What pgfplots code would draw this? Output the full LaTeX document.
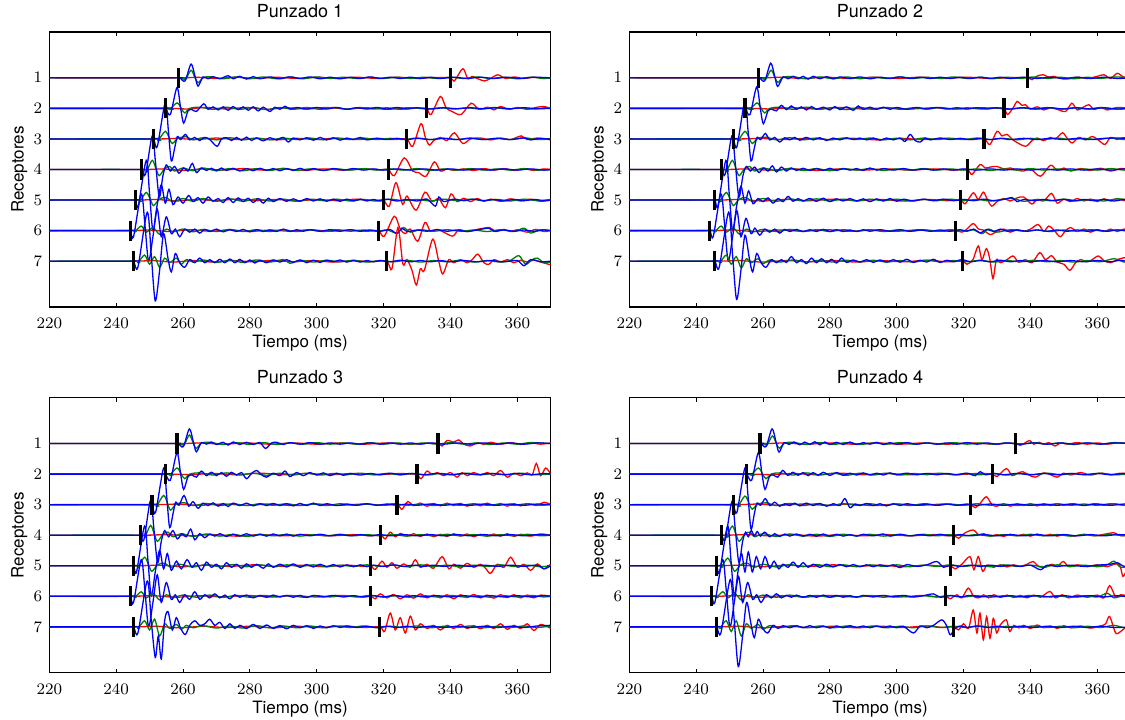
\documentclass[border=0pt]{standalone}
\usepackage{pgfplots}
\pgfplotsset{compat=1.18}
\usepackage{fontspec}
\setmainfont{TeX Gyre Heros}
\definecolor{mplgreen}{rgb}{0,0.5,0}
\newcommand\tr[3]{\addplot[#1,smooth,y filter/.expression={#2-y}] coordinates {#3};}
\newcommand\pk[2]{\addplot[black,line width=1.6pt,y filter/.expression={#2+y}] coordinates {(#1,-.33)(#1,.33)};}
\pgfplotsset{
 seis/.style={width=250.7pt,height=137.5pt,scale only axis,
  xmin=220,xmax=370,ymin=-0.5,ymax=8.5,y dir=reverse,
  ytick={1,...,7},xtick={220,240,...,360},
  tick align=inside,major tick length=2pt,
  tick style={black,line width=0.5pt},axis line style={line width=0.6pt},
  ticklabel style={font=\fontsize{8.2}{9}\selectfont},
  xticklabel style={yshift=-2pt},
  label style={font=\fontsize{8.5}{10}\selectfont},
  xlabel={Tiempo (ms)},ylabel={Receptores},
  xlabel style={at={(axis description cs:0.5,-0.1327)},anchor=center},
  ylabel style={at={(axis description cs:-0.0598,0.5)},anchor=center},
  title style={at={(axis description cs:0.5,1.033)},anchor=center,font=\fontsize{9}{10}\selectfont},
  every axis plot/.append style={line width=0.65pt}}
}
\begin{document}
\begin{tikzpicture}
%%%%%%%%%%%%%%%% PANEL 1
\begin{axis}[seis,at={(24.65pt,206pt)},anchor=south west,title={Punzado 1}]
\tr{red}{1}{(220,0)(258,0)(264,.02)(270,-.02)(276,.02)(282,-.02)(288,.02)(294,-.02)(300,.02)(306,-.02)(312,.02)(318,-.02)(324,.02)(330,-.02)(335,.01)(340,0)(341.2,-.1)(343.7,.3)(345.2,-.03)(346.5,.05)(348,-.02)(350.2,-.1)(352,-.02)(354.2,.1)(356.5,-.02)(359,.03)(362,-.02)(365,.02)(368,-.02)(370,0)}
\tr{mplgreen}{1}{(220,0)(258,0)(259.5,0)(260.8,-.05)(262.4,.25)(263.6,0)(264.5,-.16)(266,0)(268,.04)(272,-.03)(276,.03)(280,-.03)(284,.03)(288,-.03)(292,.03)(296,-.03)(300,.03)(304,-.02)(308,.02)(312,-.02)(316,.02)(320,-.02)(324,.02)(328,-.02)(332,.02)(336,-.02)(340,.02)(344,-.02)(348,.03)(352,-.02)(356,.02)(360,-.03)(364,.02)(368,-.02)(370,0)}
\tr{blue}{1}{(220,0)(257,0)(259,0)(260.6,-.1)(262.4,.45)(263.6,.05)(264.5,-.27)(266,.03)(267.5,-.03)(269,.04)(271,-.03)(273.5,.07)(275,-.03)(277,.05)(279,-.04)(281,.04)(283,-.03)(286,.03)(289,-.03)(292,.03)(295,-.02)(298,.03)(301,-.03)(304,.02)(307,-.03)(310,.02)(313,-.02)(316,.03)(319,-.02)(322,.02)(325,-.02)(328,.02)(331,-.02)(334,.02)(337,-.02)(341,.02)(345,-.02)(349,.02)(353,-.02)(357,.02)(361,-.02)(365,.02)(370,0)}
\tr{red}{2}{(220,0)(255,0)(261,-.02)(267,.03)(273,-.02)(279,.03)(285,-.03)(291,.02)(297,-.02)(303,.03)(309,-.02)(315,.02)(321,-.03)(327,.02)(331,0)(332.9,0)(334.2,-.2)(337,.39)(338.7,.02)(340.5,-.1)(343.2,-.2)(346.2,.17)(348.5,-.03)(351.2,.04)(353,-.05)(355,.06)(357.5,-.03)(360,.03)(363,-.03)(366,.04)(368,.06)(370,0)}
\tr{mplgreen}{2}{(220,0)(254.5,0)(256,-.03)(258.2,.18)(259.5,0)(260.5,-.15)(262,0)(265,.04)(269,-.03)(273,.04)(277,-.03)(281,.03)(285,-.04)(289,.03)(293,-.03)(297,.03)(301,-.03)(305,.03)(309,-.02)(313,.03)(317,-.02)(321,.02)(325,-.03)(329,.02)(333,-.02)(337,.02)(341,-.02)(345,.02)(349,-.02)(353,.03)(357,-.02)(361,.02)(365,-.02)(369,.03)(370,0)}
\tr{blue}{2}{(220,0)(253,0)(254.7,0)(256.2,-.2)(258.2,.68)(259.3,0)(260.2,-.48)(261.5,-.08)(262.7,-.04)(264,-.1)(266.2,.15)(267.5,-.03)(269,.05)(270.5,-.05)(272,.05)(273.5,-.06)(275,.06)(276.5,-.04)(278,.05)(279.5,-.06)(281,.05)(282.5,-.08)(284,.04)(286,-.1)(287.5,.04)(289,-.03)(290.5,.07)(292,-.02)(294,.03)(297,-.02)(300,.03)(303,-.02)(306,.03)(309,-.03)(312,.02)(315,-.02)(318,.03)(321,-.02)(324,.03)(327,-.02)(330,.02)(334,-.02)(338,.02)(342,-.01)(346,.02)(350,-.01)(354,.02)(358,-.01)(362,.02)(366,-.01)(370,0)}
\tr{red}{3}{(220,0)(252,0)(258,.02)(264,-.02)(270,.03)(276,-.02)(282,.02)(288,-.03)(294,.02)(300,-.02)(306,.03)(312,-.02)(318,.02)(323,-.02)(326.9,0)(328.7,-.24)(331.2,.5)(332.5,.05)(333.7,-.2)(335,-.05)(337,.05)(339,-.05)(341.2,.2)(343.7,-.15)(346,0)(349,.03)(352,-.03)(355,.03)(358,-.02)(361.2,.1)(363,-.02)(366,.03)(370,-.03)}
\tr{mplgreen}{3}{(220,0)(251,0)(252.5,-.05)(254.7,.25)(256,0)(256.8,-.15)(258.5,.02)(261,.07)(263,-.03)(266,.04)(270,-.03)(274,.04)(278,-.03)(282,.03)(286,-.03)(290,.03)(294,-.02)(298,.03)(302,-.03)(306,.02)(310,-.02)(314,.03)(318,-.02)(322,.02)(326,-.02)(330,.03)(334,-.02)(338,.02)(342,-.02)(346,.03)(350,-.02)(354,.02)(358,-.02)(362,.04)(366,-.02)(370,0)}
\tr{blue}{3}{(220,0)(249.5,0)(251.2,0)(252.3,-.25)(254.7,1.2)(255.6,.3)(256.5,-.72)(257.5,-.3)(258.3,.08)(259.3,-.02)(260.7,.15)(262,-.03)(263.5,.05)(265,-.05)(266.5,.05)(268,-.02)(270.2,-.24)(271.5,0)(273,.04)(274.5,-.05)(276,.05)(277.5,-.04)(279,.06)(280.5,-.05)(282,.03)(284,-.06)(286,.04)(288,-.03)(290,.05)(291.5,-.1)(293,.03)(295,-.03)(297,.04)(299,-.04)(301,.05)(303,-.03)(305,.04)(307,-.04)(309,.03)(311,-.02)(313,.05)(315,-.03)(318,.02)(321,-.02)(324,.02)(327,-.02)(330,.02)(334,-.02)(338,.02)(342,-.02)(346,.02)(350,-.02)(354,.02)(358,-.02)(362,.03)(364,-.03)(367,.02)(370,-.02)}
\tr{red}{4}{(220,0)(248,0)(254,.02)(260,-.03)(266,.02)(272,-.02)(278,.03)(284,-.02)(290,.02)(296,-.03)(302,.02)(308,-.02)(314,.02)(319,-.01)(321.4,0)(323.2,-.2)(326.2,.38)(328.7,-.05)(330.5,-.1)(332.7,-.22)(335.2,.25)(337,-.05)(339,.02)(341,-.03)(344,.02)(347,-.03)(350,.03)(353,-.02)(356,.03)(359,-.03)(362,.02)(365,-.03)(368,.02)(370,0)}
\tr{mplgreen}{4}{(220,0)(247.5,0)(249,-.06)(250.8,.3)(252,0)(252.9,-.2)(254.5,.03)(256,.1)(257.5,-.05)(260,.05)(263,-.04)(266,.05)(270,-.04)(274,.03)(278,-.04)(282,.03)(286,-.03)(290,.04)(294,-.03)(298,.02)(302,-.03)(306,.02)(310,-.02)(314,.03)(318,-.02)(322,.02)(326,-.02)(330,.03)(334,-.03)(338,.02)(342,-.02)(346,.03)(350,-.02)(354,.02)(358,-.02)(362,.03)(366,-.02)(370,0)}
\tr{blue}{4}{(220,0)(246,0)(247.7,0)(248.8,-.15)(250.8,1.1)(251.8,.2)(252.9,-.9)(254,-.2)(255,.15)(256.2,-.05)(257.5,.1)(258.8,-.12)(260.2,.05)(261.5,-.05)(262.8,.2)(264,-.1)(265.5,.05)(267,-.03)(268.5,.04)(270,-.04)(271.5,.05)(273,-.03)(275,.04)(277,-.05)(279,.03)(281,-.04)(283,.04)(285,-.03)(287,.03)(289,-.04)(291,.03)(293,-.03)(295,.04)(297,-.03)(299,.03)(302,-.03)(305,.03)(308,-.02)(311,.03)(314,-.02)(317,.02)(320,-.02)(324,.02)(328,-.02)(332,.02)(336,-.02)(340,.02)(344,-.02)(348,.02)(352,-.02)(356,.02)(360,-.02)(364,.02)(368,-.02)(370,0)}
\tr{red}{5}{(220,0)(246,0)(252,.02)(258,-.03)(264,.02)(270,-.02)(276,.03)(282,-.02)(288,.02)(294,-.03)(300,.02)(306,-.02)(312,.03)(317,-.02)(319.9,0)(321.7,-.2)(323.7,.57)(325.7,-.14)(327,.13)(329.7,-.33)(332.4,.26)(334.5,-.05)(336.5,.05)(338.5,-.25)(340.2,.2)(342,-.05)(344,.06)(346,-.05)(348,.05)(350,-.04)(352,.03)(355,-.04)(358,.04)(361,-.03)(364,.03)(367,-.04)(370,0)}
\tr{mplgreen}{5}{(220,0)(245.5,0)(247,-.05)(249,.25)(250.3,0)(251.2,-.18)(253,.04)(255,.08)(257,-.05)(260,.05)(263,-.04)(266,.05)(270,-.04)(274,.04)(278,-.04)(282,.04)(286,-.03)(290,.03)(294,-.04)(298,.03)(302,-.02)(306,.03)(310,-.03)(314,.02)(318,-.03)(322,.03)(326,-.02)(330,.02)(334,-.03)(338,.03)(342,-.02)(346,.03)(350,-.02)(354,.02)(358,-.03)(362,.03)(366,-.02)(370,.02)}
\tr{blue}{5}{(220,0)(244,0)(245.7,0)(246.6,-.2)(249,1.3)(250,.2)(251,-1.0)(252.2,-.2)(253.5,.5)(254.7,-.1)(255.8,.35)(257,-.15)(258.5,.1)(260,-.1)(261.7,.15)(263,-.05)(264.5,.08)(266,-.1)(267.5,.1)(269,-.04)(270.5,.05)(272,-.08)(273.5,.08)(275,-.08)(276.5,.07)(278,-.05)(279.5,.06)(281,-.08)(282.5,.05)(284,-.1)(285.5,.06)(287,-.05)(289,.05)(291,-.04)(293,.04)(295,-.04)(297,.05)(299,-.03)(301,.04)(303,-.04)(305,.03)(307,-.04)(309,.03)(311,-.03)(313,.03)(315,-.03)(317,.02)(319,-.03)(321,.03)(324,-.03)(327,.02)(330,-.03)(333,.03)(335.5,-.2)(336.5,.1)(338,-.05)(341,.03)(344,-.02)(347,.03)(350,-.02)(353,.02)(356,-.03)(359,.02)(362,-.02)(365,.02)(368,-.02)(370,0)}
\tr{red}{6}{(220,0)(244,0)(250,.02)(256,-.03)(262,.03)(268,-.02)(274,.02)(280,-.03)(286,.02)(292,-.02)(298,.03)(304,-.02)(310,.02)(315,-.02)(318.4,0)(320.2,-.18)(323.2,.47)(325,.05)(326.5,-.1)(328,.05)(330.2,-.35)(332.4,.27)(334,-.02)(336,.04)(338,-.05)(340.7,-.18)(342.5,.03)(345,-.03)(348,.04)(351.7,.1)(353.5,-.03)(356,.04)(358,-.03)(360,.03)(363,-.05)(365.5,.04)(368,-.03)(370,0)}
\tr{mplgreen}{6}{(220,0)(244,0)(245.5,-.04)(247.5,.15)(249,-.05)(251,.1)(253,-.12)(255,.05)(257,-.04)(260,.05)(263,-.04)(266,.04)(270,-.03)(274,.04)(278,-.03)(282,.03)(286,-.03)(290,.03)(294,-.03)(298,.02)(302,-.03)(306,.03)(310,-.02)(314,.02)(318,-.02)(321,.02)(324,-.08)(326,.1)(328,-.05)(331,.03)(335,-.02)(339,.03)(343,-.02)(347,.02)(351,-.03)(355,.03)(359,-.03)(362,.08)(364,-.08)(367,.03)(370,0)}
\tr{blue}{6}{(220,0)(243,0)(244.2,0)(245.2,-.2)(247.5,1.2)(248.6,.2)(249.7,-1.0)(251,-.2)(252.3,.7)(253.5,-.2)(255,.45)(256.5,-.1)(257.7,.05)(259,-.2)(260.5,.05)(262,-.05)(263.5,.05)(265,-.08)(266.5,.04)(268,-.03)(270,.05)(272,-.04)(274,.03)(276,-.03)(278,.04)(280,-.04)(282,.03)(284,-.03)(286,.02)(288,-.03)(290,.05)(292,-.03)(294,.03)(296,-.02)(298,.03)(301,-.02)(304,.03)(307,-.02)(310,.03)(313,-.02)(316,.02)(319,-.02)(322,.03)(324,-.1)(325.5,.08)(327,-.03)(330,.02)(333,-.02)(336,.03)(339,-.02)(342,.02)(345,-.03)(348,.02)(351.5,.08)(353,-.02)(356,.02)(359,-.02)(362,.02)(365,-.02)(368,.02)(370,0)}
\tr{red}{7}{(220,0)(245,0)(251,.02)(257,-.03)(263,.02)(269,-.03)(275,.02)(281,-.02)(287,.03)(293,-.02)(299,.02)(305,-.03)(311,.02)(316,-.02)(320.9,0)(322.5,-.25)(324.3,1.1)(325.8,-.1)(327,.05)(328.5,-.3)(329.8,-.78)(331,-.25)(332.2,-.3)(334.7,.72)(336.5,0)(337.7,-.42)(339.5,.05)(341,-.05)(343,.05)(345,-.05)(346.5,.05)(348.2,.23)(350,-.05)(351.5,-.1)(353,.05)(355,-.03)(357,.05)(359,-.05)(361,.03)(363,-.03)(365,.04)(367,-.03)(370,-.12)}
\tr{mplgreen}{7}{(220,0)(245,0)(246.5,-.05)(248.5,.2)(250,-.1)(251.5,.15)(253,-.2)(254.5,.1)(256,-.05)(258,.1)(259.5,-.1)(261,.05)(263,-.03)(266,.04)(270,-.04)(274,.03)(278,-.04)(282,.04)(286,-.03)(290,.05)(292,-.07)(295,.03)(299,-.03)(303,.03)(307,-.02)(311,.03)(315,-.03)(319,.02)(323,-.02)(327,.03)(331,-.03)(335,.02)(339,-.02)(343,.03)(347,-.03)(351,.02)(355,-.03)(358,.03)(360.5,.18)(362.5,-.1)(364.5,.05)(366,.1)(368,-.05)(370,-.03)}
\tr{blue}{7}{(220,0)(243.5,0)(245.2,0)(246.5,-.2)(249.3,1.6)(250.5,.2)(251.7,-1.3)(253,-.3)(254.2,.9)(255.5,.1)(256.5,-.35)(257.7,.25)(259,-.05)(260.5,-.2)(262,.05)(263.5,-.05)(265,.1)(266.5,-.05)(268,.05)(269.5,-.05)(271,.06)(272.5,-.05)(274,.07)(275.5,-.05)(277,.06)(278.5,-.05)(280,.04)(281.5,-.06)(283,.03)(285,-.05)(287,.04)(289,-.03)(291,.05)(293,-.04)(295,.04)(297,-.05)(299,.03)(301,-.04)(303,.03)(305,-.02)(307,.04)(309,-.03)(311,.02)(313,-.03)(315,.02)(317,-.02)(319,.02)(322,-.02)(325,.03)(328,-.02)(331,.02)(334,-.02)(337,.02)(340,-.02)(344,.02)(348,-.02)(352,.02)(356,-.02)(360,.02)(362,-.15)(364,.05)(367,-.02)(370,0)}
\pk{258.7}{1}\pk{254.7}{2}\pk{251.2}{3}\pk{247.7}{4}\pk{245.7}{5}\pk{244.2}{6}\pk{245.2}{7}
\pk{340.0}{1}\pk{332.9}{2}\pk{326.9}{3}\pk{321.4}{4}\pk{319.9}{5}\pk{318.4}{6}\pk{320.9}{7}
\end{axis}
%%%%%%%%%%%%%%%% PANEL 2
\begin{axis}[seis,at={(314.65pt,206pt)},anchor=south west,title={Punzado 2}]
\tr{red}{1}{(220,0)(258,0)(265,.02)(272,-.02)(279,.02)(286,-.02)(293,.02)(300,-.02)(307,.02)(314,-.02)(321,.02)(328,-.02)(335,.01)(339.2,0)(340.5,-.06)(342,.06)(343.9,.1)(345.5,.02)(347,.05)(349,-.02)(351,-.04)(354,.02)(357,-.02)(360,.05)(362,.1)(364,-.02)(366,.15)(368,.02)(370,.08)}
\tr{mplgreen}{1}{(220,0)(258,0)(259.5,0)(260.8,-.05)(262.4,.25)(263.6,0)(264.5,-.15)(266,.02)(269,.04)(273,-.03)(277,.03)(281,-.03)(285,.03)(289,-.03)(293,.02)(297,-.02)(301,.03)(305,-.02)(309,.02)(313,-.02)(317,.03)(321,-.02)(325,.02)(329,-.02)(333,.02)(337,-.02)(341,.03)(345,-.02)(349,.02)(353,-.03)(357,.02)(361,-.02)(365,.03)(370,0)}
\tr{blue}{1}{(220,0)(257,0)(258.9,0)(260.5,-.1)(262.3,.48)(263.5,.05)(264.4,-.28)(266,.03)(267.5,-.03)(269,.05)(270.5,-.03)(272,.05)(273.5,-.04)(275,.05)(277,-.03)(279,.04)(281,-.03)(283,.03)(286,-.02)(289,.03)(292,-.03)(295,.02)(298,-.02)(301,.03)(304,-.02)(307,.02)(310,-.02)(313,.02)(316,-.02)(319,.02)(322,-.02)(325,.02)(328,-.02)(331,.02)(334,-.02)(338,.02)(342,-.02)(346,.02)(350,-.02)(354,.02)(358,-.02)(362,.02)(366,-.02)(370,0)}
\tr{red}{2}{(220,0)(255,0)(262,-.02)(269,.02)(276,-.02)(283,.03)(290,-.02)(297,.02)(304,-.02)(311,.02)(318,-.02)(325,.02)(330,0)(332.1,0)(333.2,-.2)(335,.05)(336,.23)(337.5,.1)(338.5,.12)(340,-.02)(342,.05)(344,-.05)(346,.02)(348,-.03)(350.5,-.1)(352.4,.17)(354,-.05)(356,.05)(357.5,.12)(359,-.03)(361,.03)(363,-.05)(366,.03)(370,0)}
\tr{mplgreen}{2}{(220,0)(254.5,0)(256,-.03)(258.2,.18)(259.5,0)(260.5,-.15)(262,0)(265,.04)(269,-.03)(273,.04)(277,-.03)(281,.03)(285,-.04)(289,.03)(293,-.03)(297,.03)(301,-.03)(305,.02)(309,-.02)(313,.03)(317,-.02)(321,.02)(325,-.02)(329,.02)(333,-.03)(337,.02)(341,-.02)(345,.03)(349,-.02)(353,.02)(357,-.02)(361,.03)(365,-.02)(370,0)}
\tr{blue}{2}{(220,0)(253,0)(254.6,0)(256.1,-.2)(258.1,.7)(259.2,0)(260.1,-.5)(261.5,-.08)(262.7,-.03)(264,-.08)(265.5,.1)(267,-.04)(268.5,.08)(270,-.03)(271.5,.05)(273,-.05)(274.5,.06)(276,-.03)(278,.04)(280,-.05)(281.5,.06)(283,-.04)(285,.05)(287,-.06)(288.5,.08)(290,-.03)(292,.04)(294,-.03)(296,.04)(298,-.03)(300,.03)(303,-.03)(306,.03)(309,-.02)(312,.03)(315,-.02)(318,.02)(321,-.02)(324,.02)(327,-.02)(330,.02)(334,-.02)(338,.02)(342,-.02)(346,.02)(350,-.02)(354,.02)(358,-.02)(362,.02)(366,-.02)(370,0)}
\tr{red}{3}{(220,0)(252,0)(259,.02)(266,-.02)(273,.02)(280,-.02)(287,.02)(294,-.03)(301,.02)(308,-.02)(315,.02)(322,-.02)(326.1,0)(327.9,-.18)(330,.25)(331.5,.1)(333,.15)(335,-.05)(338.5,-.24)(340.5,-.05)(342,.03)(344,-.05)(346,.05)(347.5,0)(349.6,.2)(351,.02)(352.5,-.13)(354.5,.05)(356.5,-.03)(358.5,.08)(360.5,-.05)(362.3,-.18)(364,.05)(366,-.02)(368,.04)(370,0)}
\tr{mplgreen}{3}{(220,0)(251,0)(252.5,-.05)(254.6,.25)(256,0)(256.8,-.15)(258.5,.02)(261,.06)(264,-.03)(268,.04)(272,-.03)(276,.03)(280,-.03)(284,.03)(288,-.02)(292,.03)(296,-.03)(300,.02)(304,-.03)(308,.03)(312,-.02)(316,.02)(320,-.02)(324,.03)(328,-.02)(332,.02)(336,-.03)(340,.02)(344,-.02)(348,.03)(352,-.02)(356,.02)(360,-.02)(364,.03)(368,-.02)(370,0)}
\tr{blue}{3}{(220,0)(249.5,0)(251.1,0)(252.2,-.25)(254.6,1.25)(255.5,.3)(256.4,-.72)(257.4,-.3)(258.2,.05)(259.3,-.02)(260.7,.18)(262,-.03)(263.5,.05)(265,-.1)(266.5,.04)(268,-.03)(269.5,.05)(271,-.04)(273,.05)(275,-.03)(277,.04)(279,-.05)(281,.03)(283,-.03)(285,.04)(287,-.02)(289,.03)(291,-.03)(293,.03)(295,-.04)(297,.03)(299,-.03)(301,.03)(302.5,-.08)(304,.15)(305.5,-.05)(307,-.1)(308.5,.03)(310,-.03)(313,.03)(316,-.02)(319,.02)(322,-.02)(325,.02)(328,-.02)(331,.02)(334,-.02)(338,.02)(342,-.02)(346,.02)(350,-.02)(354,.02)(358,-.02)(362,.02)(366,.03)(370,.02)}
\tr{red}{4}{(220,0)(248,0)(255,.02)(262,-.02)(269,.02)(276,-.03)(283,.02)(290,-.02)(297,.02)(304,-.02)(311,.02)(317,-.02)(321.1,0)(322.5,-.16)(324.9,.16)(326.5,.05)(328,.08)(330,.1)(332,.02)(334,.05)(336,-.02)(338,-.05)(340,.02)(343,-.22)(346,.14)(348,-.02)(350,.05)(352,-.05)(355,.03)(358,-.03)(361,.04)(364,-.05)(367,.03)(370,0)}
\tr{mplgreen}{4}{(220,0)(247.5,0)(249,-.06)(250.8,.3)(252,0)(252.9,-.2)(254.5,.03)(256,.1)(257.5,-.05)(260,.05)(264,-.04)(268,.04)(272,-.03)(276,.03)(280,-.04)(284,.03)(288,-.02)(292,.03)(296,-.03)(300,.02)(304,-.02)(308,.03)(312,-.02)(316,.02)(320,-.02)(324,.02)(328,-.03)(332,.02)(336,-.02)(340,.03)(344,-.02)(348,.02)(352,-.03)(356,.02)(360,-.02)(364,.03)(368,-.02)(370,0)}
\tr{blue}{4}{(220,0)(246,0)(247.6,0)(248.7,-.15)(250.7,1.1)(251.7,.2)(252.8,-.9)(254,-.2)(255,.1)(256.2,-.05)(257.5,.08)(258.8,-.1)(260.2,.05)(261.5,-.05)(262.8,.12)(264,-.08)(265.5,.08)(267,-.05)(268.5,.05)(270,-.03)(272,.04)(274,-.03)(276,.03)(278,-.03)(280,.04)(282,-.03)(284,.03)(286,-.02)(288,.03)(290,-.03)(292,.05)(294,-.02)(296,.03)(299,-.02)(302,.03)(305,-.02)(308,.02)(311,-.02)(314,.02)(317,-.02)(320,.02)(324,-.02)(328,.02)(332,-.02)(336,.02)(340,-.02)(344,.02)(348,-.02)(352,.02)(356,-.02)(360,.02)(364,-.02)(368,.02)(370,0)}
\tr{red}{5}{(220,0)(246,0)(253,.02)(260,-.03)(267,.02)(274,-.02)(281,.03)(288,-.02)(295,.02)(302,-.03)(309,.02)(315,-.02)(319.1,0)(320.5,-.12)(322.9,.24)(324.4,.02)(325.9,.26)(327,.05)(328.4,-.2)(330,-.05)(332,.05)(334,-.03)(336,.07)(338,.1)(340.4,-.13)(342,.02)(344,-.03)(346.3,.22)(348,-.1)(350,.03)(352,-.05)(354,.05)(356,-.03)(358,.03)(360,-.05)(362,.04)(364,-.03)(366,.05)(368,-.02)(370,.03)}
\tr{mplgreen}{5}{(220,0)(245.5,0)(247,-.05)(249,.25)(250.3,0)(251.2,-.18)(253,.04)(255,.08)(257,-.05)(260,.05)(264,-.04)(268,.04)(272,-.03)(276,.04)(280,-.03)(284,.03)(288,-.03)(292,.03)(296,-.02)(300,.03)(304,-.03)(308,.02)(312,-.02)(316,.03)(320,-.02)(324,.02)(328,-.03)(332,.03)(335,.05)(338,-.04)(342,.02)(346,-.02)(350,.03)(354,-.02)(358,.02)(362,-.03)(366,.04)(370,0)}
\tr{blue}{5}{(220,0)(244,0)(245.6,0)(246.5,-.2)(248.9,1.3)(249.9,.2)(250.9,-1.0)(252.1,-.2)(253.4,.45)(254.6,-.1)(255.7,.3)(257,-.12)(258.5,.05)(260,-.05)(261.5,.07)(263,-.1)(264.5,.05)(266,-.05)(267.5,.12)(269,-.04)(270.5,.05)(272,-.03)(274,.05)(276,-.04)(278,.06)(280,-.05)(282,.04)(284,-.03)(286,.05)(288,-.03)(290,.04)(292,-.05)(294,.04)(296,-.03)(298,.05)(300,-.04)(302,.03)(305,-.03)(308,.03)(311,-.02)(314,.03)(317,-.02)(320,.02)(323,-.02)(326,.03)(329,-.02)(332,.02)(334.5,.08)(336,-.05)(338,.02)(341,-.02)(344,.02)(347,-.02)(350,.02)(353,-.03)(356,.02)(359,-.02)(362,.02)(365,-.03)(368,.02)(370,0)}
\tr{red}{6}{(220,0)(244,0)(251,.02)(258,-.03)(265,.02)(272,-.02)(279,.03)(286,-.02)(293,.02)(300,-.02)(307,.03)(313,-.02)(317.6,0)(319.5,-.05)(321,.05)(322.9,.23)(324.5,.05)(325.9,.02)(328,-.13)(330,-.02)(332,.05)(334,-.05)(336,.03)(338,-.02)(340,.05)(342.3,.2)(344,-.02)(345.5,.15)(347,.02)(348.9,-.2)(350.5,0)(352,.1)(354,-.03)(356,.05)(358,-.05)(360,.03)(362,-.03)(364,.05)(366,-.03)(368,.05)(370,0)}
\tr{mplgreen}{6}{(220,0)(244,0)(245.5,-.04)(247.5,.15)(249,-.05)(251,.1)(253,-.12)(255,.05)(257,-.04)(260,.04)(264,-.03)(268,.04)(272,-.03)(276,.03)(280,-.03)(284,.03)(288,-.02)(292,.03)(296,-.03)(300,.02)(304,-.02)(308,.02)(312,-.02)(316,.03)(320,-.02)(323,.02)(325.5,-.1)(327.5,.05)(330,-.05)(334,.03)(338,-.02)(342,.02)(346,-.03)(350,.02)(354,-.02)(358,.03)(362,-.02)(366,.02)(370,0)}
\tr{blue}{6}{(220,0)(242.5,0)(244.1,0)(245.1,-.2)(247.4,1.2)(248.5,.2)(249.6,-1.0)(250.9,-.2)(252.2,.65)(253.4,-.2)(254.9,.4)(256.4,-.1)(257.6,.08)(259,-.15)(260.5,.05)(262,-.05)(263.5,.05)(265,-.08)(266.5,.04)(268,-.03)(270,.04)(272,-.03)(274,.03)(276,-.03)(278,.04)(280,-.03)(282,.03)(284,-.03)(286,.02)(288,-.03)(290,.03)(292,-.02)(295,.03)(298,-.02)(301,.03)(304,-.02)(307,.02)(310,-.02)(313,.02)(316,-.02)(319,.03)(321,-.02)(323,.05)(325,-.07)(327,.04)(329,-.03)(331,.05)(333,-.02)(336,.02)(339,-.02)(342,.02)(345,-.02)(348,.02)(351,-.02)(354,.02)(357,-.02)(360,.02)(363,-.02)(366,.02)(370,-.03)}
\tr{red}{7}{(220,0)(246,0)(253,.02)(260,-.03)(267,.02)(274,-.02)(281,.02)(288,-.03)(295,.02)(302,-.02)(309,.03)(315,-.02)(319.6,0)(321,-.1)(322.8,.05)(324.4,.5)(325.5,.05)(326.8,.41)(327.8,.1)(328.8,-.57)(329.8,.05)(331,-.05)(333,.05)(334.8,.17)(336.5,-.03)(338.5,.05)(340.5,-.05)(342.8,.28)(344.5,.05)(346.3,.18)(348,-.03)(350,-.1)(351.8,-.3)(353.5,-.05)(355,.05)(357,-.02)(358.5,.05)(360.3,.17)(362,.02)(364,-.05)(366,.05)(368.5,.12)(370,.05)}
\tr{mplgreen}{7}{(220,0)(245.5,0)(247,-.05)(249,.2)(250.5,-.1)(252,.15)(253.5,-.22)(255,.08)(256.5,-.05)(258.5,.08)(260,-.08)(262,.04)(265,-.03)(269,.04)(273,-.03)(277,.03)(281,-.03)(285,.03)(289,-.02)(293,.03)(297,-.03)(301,.02)(305,-.03)(309,.03)(313,-.02)(317,.02)(321,-.02)(325,.03)(329,-.03)(333,.02)(337,-.02)(341,.03)(345,-.02)(349,.02)(353,-.03)(357,.02)(361,-.02)(365,.08)(368,-.03)(370,0)}
\tr{blue}{7}{(220,0)(244,0)(245.6,0)(246.9,-.2)(249.7,1.6)(250.9,.2)(252.1,-1.25)(253.4,-.3)(254.6,.85)(255.9,.1)(256.9,-.35)(258.1,.25)(259.4,-.05)(260.9,-.2)(262.5,.05)(264,-.05)(265.5,.05)(267,-.04)(268.5,.15)(270,-.05)(271.5,.05)(273,-.08)(274.5,.1)(276,-.05)(277.5,.08)(279,-.05)(280.5,.06)(282,-.06)(283.5,.1)(285,-.04)(287,.04)(289,-.03)(291,.05)(293,-.04)(295,.04)(297,-.03)(299,.05)(301,-.03)(303,.06)(305,-.04)(307,.03)(309,-.03)(311,.06)(313,-.04)(315,.03)(317,-.02)(319.5,.05)(322,-.02)(325,.02)(328,-.02)(331,.03)(334,-.02)(337,.02)(340,-.02)(344,.02)(348,-.02)(352,.02)(356,-.02)(360,.02)(364,-.02)(367,.03)(370,-.05)}
\pk{258.6}{1}\pk{254.6}{2}\pk{251.1}{3}\pk{247.6}{4}\pk{245.6}{5}\pk{244.1}{6}\pk{245.6}{7}
\pk{339.2}{1}\pk{332.1}{2}\pk{326.1}{3}\pk{321.1}{4}\pk{319.1}{5}\pk{317.6}{6}\pk{319.6}{7}
\end{axis}
%%%%%%%%%%%%%%%% PANEL 3
\begin{axis}[seis,at={(24.65pt,23.15pt)},anchor=south west,title={Punzado 3}]
\tr{red}{1}{(220,0)(258,0)(265,.02)(272,-.02)(279,.02)(286,-.02)(293,.02)(300,-.02)(307,.02)(314,-.02)(321,.02)(328,-.02)(333,.01)(336.3,0)(337.5,-.08)(339,.1)(341,.05)(342.5,.12)(344,-.02)(346,-.08)(348,.03)(350,-.03)(352,.04)(355,-.02)(358,.03)(361,-.03)(364,.02)(367,-.02)(370,.02)}
\tr{mplgreen}{1}{(220,0)(257.5,0)(259,0)(260.3,-.05)(261.9,.28)(263.1,0)(264,-.16)(265.5,.02)(268,.04)(272,-.03)(276,.03)(280,-.03)(284,.03)(288,-.03)(292,.02)(296,-.02)(300,.03)(304,-.02)(308,.02)(312,-.02)(316,.03)(320,-.02)(324,.02)(328,-.02)(332,.02)(336,-.02)(340,.03)(344,-.02)(348,.02)(352,-.03)(356,.02)(360,-.02)(364,.03)(370,0)}
\tr{blue}{1}{(220,0)(256.5,0)(258.5,0)(260.1,-.1)(261.9,.48)(263.1,.05)(264,-.27)(265.5,.03)(267,-.02)(268.5,.05)(270,-.03)(272,.04)(273.5,-.05)(275,.05)(277,-.03)(279,.04)(281,-.03)(283,.03)(284.7,-.16)(286.5,.02)(288,.04)(290,-.03)(292,.03)(295,-.02)(298,.03)(301,-.02)(304,.02)(307,-.02)(310,.02)(313,-.02)(316,.02)(319,-.02)(322,.02)(325,-.02)(328,.02)(331,-.02)(334,.02)(338,-.02)(342,.02)(346,-.02)(350,.02)(354,-.02)(358,.02)(362,-.02)(366,.02)(370,0)}
\tr{red}{2}{(220,0)(255,0)(262,-.02)(269,.02)(276,-.02)(283,.03)(290,-.02)(297,.02)(304,-.02)(311,.02)(318,-.02)(325,.02)(328,0)(330,0)(331.2,-.15)(333,.1)(334.5,-.02)(336,.05)(338,-.05)(340,.05)(342,-.1)(343.5,.05)(345,-.05)(347,.05)(349,-.03)(351,.05)(353,-.05)(355,.12)(357,-.1)(359,.03)(361,-.05)(363,.04)(364.5,-.02)(365.7,.35)(367,-.05)(368.5,.2)(370,0)}
\tr{mplgreen}{2}{(220,0)(254.5,0)(256,-.03)(258.2,.2)(259.5,0)(260.5,-.15)(262,0)(265,.04)(269,-.03)(273,.04)(277,-.03)(281,.03)(285,-.04)(289,.03)(293,-.03)(297,.03)(301,-.03)(305,.02)(309,-.02)(313,.03)(317,-.02)(321,.02)(325,-.02)(329,.02)(333,-.03)(337,.02)(341,-.02)(345,.03)(349,-.02)(353,.02)(357,-.02)(361,.03)(365,-.02)(370,0)}
\tr{blue}{2}{(220,0)(253,0)(254.7,0)(256.2,-.2)(258.2,.7)(259.3,0)(260.2,-.5)(261.5,-.08)(262.7,-.03)(264,-.1)(265.5,.1)(267,-.05)(268.5,.06)(270,-.05)(271.5,.05)(273,-.07)(274.5,.06)(276,-.03)(277.5,.05)(279,-.15)(280.5,.02)(282,.12)(283.5,-.02)(285,-.1)(287,.03)(289,-.05)(290.5,.1)(292,-.08)(294,.05)(296,-.05)(298,.05)(300,-.03)(302,.04)(304,-.05)(306,.03)(308,-.04)(310,.02)(313,-.03)(316,.02)(319,-.02)(322,.03)(325,-.02)(328,.02)(332,-.02)(336,.02)(340,-.02)(344,.02)(348,-.02)(352,.02)(356,-.02)(360,.02)(364,-.02)(368,.02)(370,0)}
\tr{red}{3}{(220,0)(251,0)(258,.02)(265,-.02)(272,.02)(279,-.02)(286,.02)(293,-.03)(300,.02)(307,-.02)(314,.02)(320,-.02)(324,0)(325.5,-.15)(327.2,.1)(329,-.03)(331,.05)(333,-.05)(335,.04)(337,-.04)(339,.05)(341,-.03)(343,.04)(345,-.05)(347,.03)(349,-.04)(351,.05)(353,-.03)(355,.04)(357,-.05)(359,.03)(361,-.04)(363,.03)(366,-.03)(368,.08)(370,0)}
\tr{mplgreen}{3}{(220,0)(250.5,0)(252,-.05)(254.2,.3)(255.5,0)(256.3,-.18)(258,.02)(260.5,.06)(263,-.03)(267,.04)(271,-.03)(275,.03)(279,-.03)(283,.03)(287,-.02)(291,.03)(295,-.03)(299,.02)(303,-.03)(307,.03)(311,-.02)(315,.02)(319,-.02)(323,.03)(327,-.02)(331,.02)(335,-.03)(339,.02)(343,-.02)(347,.03)(351,-.02)(355,.02)(359,-.02)(363,.03)(367,-.02)(370,0)}
\tr{blue}{3}{(220,0)(249,0)(250.7,0)(251.8,-.25)(254.2,1.2)(255.1,.3)(256,-.75)(257,-.3)(257.8,.08)(258.8,-.02)(260.3,.3)(261.7,-.05)(263,.1)(264.5,-.12)(266,.05)(267.5,-.03)(269,.06)(270.5,-.05)(272,.04)(273.5,-.06)(275,.05)(277,-.03)(279,.05)(281,-.04)(283,.03)(285,-.03)(287,.04)(289,-.03)(291,.03)(293,-.04)(295,.04)(297,-.03)(299,.05)(301,-.03)(303,.03)(306,-.03)(309,.02)(312,-.02)(315,.03)(318,-.02)(321,.02)(324,-.02)(327,.02)(330,-.02)(334,.02)(338,-.02)(342,.02)(346,-.02)(350,.02)(354,-.02)(358,.02)(362,-.02)(366,.02)(370,0)}
\tr{red}{4}{(220,0)(248,0)(255,.02)(262,-.02)(269,.02)(276,-.03)(283,.02)(290,-.02)(297,.02)(304,-.02)(311,.02)(316,-.02)(319.2,0)(320.5,-.12)(322,.1)(323.5,-.05)(325,.06)(327,-.03)(329,.05)(331,-.04)(333,.04)(335,-.05)(337,.03)(339,-.04)(341,.05)(343,-.03)(345,.04)(347,-.05)(349,.03)(351,-.03)(353,.04)(355,-.03)(357,.05)(359,-.04)(361,.03)(364,-.03)(367,.04)(370,0)}
\tr{mplgreen}{4}{(220,0)(247,0)(248.5,-.06)(250.3,.32)(251.5,0)(252.4,-.2)(254,.03)(255.5,.1)(257,-.05)(259.5,.05)(263,-.04)(267,.04)(271,-.03)(275,.03)(279,-.04)(283,.03)(287,-.02)(291,.03)(295,-.03)(299,.02)(303,-.02)(307,.03)(311,-.02)(315,.02)(319,-.02)(323,.02)(327,-.03)(331,.02)(335,-.02)(339,.03)(343,-.02)(347,.02)(351,-.03)(355,.02)(359,-.02)(363,.03)(367,-.02)(370,0)}
\tr{blue}{4}{(220,0)(245.5,0)(247.2,0)(248.3,-.15)(250.3,1.15)(251.3,.2)(252.4,-.9)(253.5,-.2)(254.5,.15)(255.7,-.05)(257,.15)(258.3,-.12)(259.7,.05)(261,-.05)(262.3,.2)(263.5,-.15)(265,.05)(266.5,-.08)(268,.04)(269.5,-.03)(271,.05)(273,-.04)(275,.03)(277,-.03)(279,.05)(281,-.03)(283,.03)(285,-.03)(287,.04)(289,-.02)(291,.03)(293,-.03)(295,.03)(298,-.02)(301,.03)(304,-.02)(307,.02)(310,-.02)(313,.02)(316,-.02)(319,.02)(322,-.02)(326,.02)(330,-.02)(334,.02)(338,-.02)(342,.02)(346,-.02)(350,.02)(354,-.02)(358,.02)(362,-.02)(366,.02)(370,0)}
\tr{red}{5}{(220,0)(246,0)(253,.02)(260,-.03)(267,.02)(274,-.02)(281,.03)(288,-.02)(295,.02)(302,-.03)(309,.02)(314,-.02)(316.2,0)(317.5,-.12)(319.5,.15)(321,-.05)(322.5,.1)(324,-.08)(326,.06)(328,-.05)(329.5,.2)(331,-.05)(333,.05)(335,-.08)(337.5,.3)(339.5,-.1)(341,.05)(343,-.08)(345,.08)(347,-.05)(349,.05)(350.5,-.08)(352,-.25)(354,.05)(356,-.05)(358,.28)(360,-.05)(362,.05)(364,-.15)(366,.06)(368,-.1)(370,.05)}
\tr{mplgreen}{5}{(220,0)(245,0)(246.5,-.05)(248.5,.28)(249.8,0)(250.7,-.18)(252.5,.04)(254.5,.08)(256.5,-.05)(259,.05)(263,-.04)(267,.04)(271,-.03)(275,.04)(279,-.03)(283,.03)(287,-.03)(291,.03)(295,-.02)(299,.03)(303,-.03)(307,.02)(311,-.02)(315,.03)(319,-.02)(323,.02)(327,-.03)(331,.03)(335,-.02)(339,.02)(343,-.03)(347,.02)(351,-.02)(355,.03)(359,-.02)(363,.02)(367,-.03)(370,0)}
\tr{blue}{5}{(220,0)(243.5,0)(245.2,0)(246.1,-.2)(248.5,1.3)(249.5,.2)(250.5,-1.0)(251.7,-.2)(253,.5)(254.2,-.1)(255.3,.4)(256.5,-.15)(258,.15)(259.5,-.1)(261.2,.2)(262.7,-.05)(264,.1)(265.5,-.15)(267,.12)(268.5,-.05)(270,.05)(271.5,-.1)(273,.1)(274.5,-.05)(276,.05)(277.5,-.08)(279,.06)(280.5,-.05)(282,.05)(284,-.08)(285.5,.06)(287,-.05)(289,.05)(291,-.04)(293,.06)(295,-.05)(297,.04)(299,-.04)(301,.05)(303,-.03)(305,.04)(307,-.04)(309,.03)(311,-.03)(313,.03)(315,-.03)(317,.02)(320,-.02)(323,.03)(326,-.02)(329,.02)(332,-.02)(335,.02)(338,-.02)(342,.02)(346,-.02)(350,.02)(354,-.02)(358,.02)(362,-.02)(366,.02)(368,-.1)(370,0)}
\tr{red}{6}{(220,0)(244,0)(251,.02)(258,-.03)(265,.02)(272,-.02)(279,.03)(286,-.02)(293,.02)(300,-.02)(307,.03)(313,-.02)(316.2,0)(317.5,-.08)(319,.08)(321,-.05)(323,.06)(325,-.08)(327,.05)(329,-.06)(331,.08)(333,-.05)(335,.04)(337,-.05)(339,.05)(341,-.08)(343,.05)(345,-.04)(347,.06)(349,-.05)(351,.04)(353,-.06)(355,.05)(357,-.04)(359,.05)(361,-.05)(363,.04)(365,-.05)(367,.04)(370,0)}
\tr{mplgreen}{6}{(220,0)(244,0)(245.5,-.04)(247.5,.15)(249,-.05)(251,.1)(253,-.12)(255,.05)(257,-.04)(260,.04)(264,-.03)(268,.04)(272,-.03)(276,.03)(280,-.03)(284,.03)(288,-.02)(292,.03)(296,-.03)(300,.02)(304,-.02)(308,.02)(312,-.02)(316,.03)(320,-.02)(324,.02)(328,-.03)(332,.02)(336,-.02)(340,.03)(344,-.02)(348,.02)(352,-.03)(356,.02)(360,-.02)(364,.03)(368,-.02)(370,0)}
\tr{blue}{6}{(220,0)(242.5,0)(244.2,0)(245.2,-.2)(247.5,1.2)(248.6,.2)(249.7,-1.0)(251,-.2)(252.3,.7)(253.5,-.2)(255,.45)(256.5,-.1)(257.7,.05)(259,-.2)(260.5,.05)(262,-.1)(263.5,.15)(265,-.1)(266.5,.05)(268,-.05)(269.5,.08)(271,-.05)(272.5,.04)(274,-.08)(275.5,.05)(277,-.03)(279,.04)(281,-.05)(283,.03)(285,-.03)(287,.04)(289,-.02)(291,.03)(293,-.03)(295,.03)(297,-.04)(299,.03)(302,-.02)(305,.03)(308,-.02)(311,.02)(314,-.02)(317,.02)(320,-.02)(323,.03)(326,-.02)(329,.02)(332,-.02)(336,.02)(340,-.02)(344,.02)(348,-.02)(352,.02)(356,-.02)(360,.02)(364,-.02)(368,.02)(370,0)}
\tr{red}{7}{(220,0)(245,0)(252,.02)(259,-.03)(266,.02)(273,-.02)(280,.02)(287,-.03)(294,.02)(301,-.02)(308,.03)(314,-.02)(318.9,0)(320.3,-.15)(322,.45)(323.5,-.1)(325,.3)(326.5,-.2)(328,.35)(329.5,-.1)(331,.1)(333,-.05)(335,.05)(337,-.1)(339,.05)(341,-.05)(343,.08)(345,-.05)(347,.04)(349,-.06)(351,.05)(353,-.05)(355,.1)(357,-.08)(359,.05)(361,-.05)(363,.1)(365,-.12)(367,.08)(370,-.05)}
\tr{mplgreen}{7}{(220,0)(245,0)(246.5,-.05)(248.5,.2)(250,-.1)(251.5,.25)(253,-.3)(254.5,.1)(256,-.05)(258,.08)(259.5,-.08)(261,.05)(263,-.03)(266,.04)(270,-.04)(274,.03)(278,-.04)(282,.04)(286,-.03)(290,.03)(294,-.03)(298,.03)(302,-.03)(306,.02)(310,-.02)(314,.03)(318,-.03)(322,.02)(326,-.02)(330,.03)(334,-.03)(338,.02)(342,-.02)(346,.03)(350,-.03)(354,.02)(358,-.02)(362,.03)(366,-.02)(370,.03)}
\tr{blue}{7}{(220,0)(243.5,0)(245.2,0)(246.5,-.2)(249.3,1.5)(250.5,.2)(251.7,-1.0)(252.6,-.3)(253.5,-1.05)(254.5,.2)(255.5,.5)(256.8,-.1)(258,.3)(259.3,-.05)(260.7,-.25)(262,.05)(263.5,.2)(265,.05)(266.5,.1)(268,.25)(269.5,.05)(271,.15)(272.5,-.05)(274,.1)(275.5,-.05)(277,.05)(279,-.05)(281,.08)(283,-.05)(285,.06)(287,-.05)(289,.04)(291,-.06)(293,.05)(295,-.03)(297,.04)(299,-.05)(301,.03)(303,-.03)(305,.04)(307,-.02)(309,.03)(312,-.02)(315,.02)(318,-.02)(321,.02)(324,-.02)(327,.02)(330,-.02)(334,.02)(338,-.02)(342,.02)(346,-.02)(350,.02)(354,-.02)(358,.02)(362,-.02)(366,.03)(370,.05)}
\pk{258.2}{1}\pk{254.7}{2}\pk{250.7}{3}\pk{247.2}{4}\pk{245.2}{5}\pk{244.2}{6}\pk{245.2}{7}
\pk{336.3}{1}\pk{330.0}{2}\pk{324.0}{3}\pk{319.2}{4}\pk{316.2}{5}\pk{316.2}{6}\pk{318.9}{7}
\end{axis}
%%%%%%%%%%%%%%%% PANEL 4
\begin{axis}[seis,at={(314.65pt,23.15pt)},anchor=south west,title={Punzado 4}]
\tr{red}{1}{(220,0)(259,0)(266,.02)(273,-.02)(280,.02)(287,-.02)(294,.02)(301,-.02)(308,.02)(315,-.02)(322,.02)(329,-.02)(333,.01)(335.6,0)(337,-.06)(338.5,.03)(339.8,.1)(341,-.02)(342.5,.04)(344,-.02)(345.5,.03)(347.4,-.08)(349,.02)(351,-.02)(354,.03)(357,-.02)(360,.02)(363,-.02)(366,.02)(370,0)}
\tr{mplgreen}{1}{(220,0)(258.5,0)(260,0)(261.2,-.05)(262.8,.25)(264,0)(264.9,-.15)(266.5,.02)(269,.04)(273,-.03)(277,.03)(281,-.03)(285,.03)(289,-.03)(293,.02)(297,-.02)(301,.03)(305,-.02)(309,.02)(313,-.02)(317,.03)(321,-.02)(325,.02)(329,-.02)(333,.02)(337,-.02)(341,.03)(345,-.02)(349,.02)(353,-.03)(357,.02)(361,-.02)(365,.03)(370,0)}
\tr{blue}{1}{(220,0)(257.5,0)(259.3,0)(260.9,-.1)(262.7,.48)(263.9,.05)(264.8,-.28)(266.3,.03)(267.8,-.03)(269.3,.05)(271,-.04)(272.5,.05)(274,-.03)(275.5,.06)(277,-.04)(278.5,.05)(280,-.03)(282,.04)(284,-.03)(286,.05)(288,-.03)(290,.03)(292,-.02)(294,.04)(296,-.03)(298,.03)(300,-.02)(303,.03)(306,-.02)(309,.02)(312,-.02)(315,.02)(318,-.02)(321,.03)(324,-.02)(327,.02)(330,-.02)(333,.02)(337,-.02)(341,.02)(345,-.02)(349,.02)(353,-.02)(357,.02)(361,-.02)(365,.02)(370,0)}
\tr{red}{2}{(220,0)(255,0)(262,-.02)(269,.02)(276,-.02)(283,.03)(290,-.02)(297,.02)(304,-.02)(311,.02)(318,-.02)(324,.02)(328.6,0)(330,-.08)(332.8,.18)(334.5,-.05)(336,.02)(337.7,.08)(339.5,-.03)(341.5,-.1)(344,.04)(346,-.02)(348,-.1)(350,.03)(352,-.03)(355,.05)(358,-.03)(361,.03)(364,-.02)(367,.03)(370,0)}
\tr{mplgreen}{2}{(220,0)(255,0)(256.4,-.03)(258.6,.2)(259.9,0)(260.9,-.15)(262.4,0)(265,.04)(269,-.03)(273,.04)(277,-.03)(281,.03)(285,-.04)(289,.03)(293,-.03)(297,.03)(301,-.03)(305,.02)(309,-.02)(313,.03)(317,-.02)(321,.02)(325,-.02)(329,.02)(333,-.03)(337,.02)(341,-.02)(345,.03)(349,-.02)(353,.02)(357,-.02)(361,.03)(365,-.02)(370,0)}
\tr{blue}{2}{(220,0)(253.5,0)(255.1,0)(256.6,-.2)(258.6,.7)(259.7,0)(260.6,-.5)(261.9,-.08)(263.1,-.03)(264.4,-.1)(265.9,.12)(267.4,-.04)(269,.06)(270.5,-.04)(272,.05)(273.5,-.05)(275,.05)(276.5,-.04)(278,.06)(280,-.04)(282,.05)(284,-.04)(286,.03)(288,-.03)(290,.04)(292,-.03)(294,.03)(296,-.03)(298,.04)(300,-.02)(303,.03)(306,-.02)(309,.02)(312,-.02)(315,.02)(318,-.02)(321,.03)(323.5,-.05)(325,.08)(326.5,-.02)(329,.02)(332,-.02)(336,.02)(340,-.02)(344,.02)(348,-.02)(352,.02)(356,-.02)(360,.02)(364,-.02)(368,.02)(370,0)}
\tr{red}{3}{(220,0)(251,0)(258,.02)(265,-.02)(272,.02)(279,-.02)(286,.02)(293,-.03)(300,.02)(307,-.02)(314,.02)(319,-.02)(322.1,0)(323.5,-.1)(325,.05)(326.8,.26)(328.5,0)(330,-.05)(332,.03)(334,-.05)(336,.02)(338,-.03)(340,.03)(342,-.04)(344,.02)(346,-.03)(348,.03)(350,-.02)(353,.03)(356,-.03)(359,.03)(362,-.02)(365,.03)(368,-.02)(370,0)}
\tr{mplgreen}{3}{(220,0)(251,0)(252.5,-.05)(254.6,.28)(256,0)(256.8,-.15)(258.5,.02)(261,.06)(264,-.03)(268,.04)(272,-.03)(276,.03)(280,-.03)(284,.03)(288,-.02)(292,.03)(296,-.03)(300,.02)(304,-.03)(308,.03)(312,-.02)(316,.02)(320,-.02)(324,.03)(328,-.02)(332,.02)(336,-.03)(340,.02)(344,-.02)(348,.03)(352,-.02)(356,.02)(360,-.02)(364,.03)(368,-.02)(370,0)}
\tr{blue}{3}{(220,0)(249.5,0)(251.1,0)(252.2,-.25)(254.6,1.2)(255.5,.3)(256.4,-.8)(257.4,-.3)(258.2,.05)(259.3,-.02)(260.7,.2)(262,-.03)(263.5,.08)(265,-.05)(266.5,.03)(268,-.03)(269.5,.05)(271,-.04)(273,.05)(275,-.03)(277,.04)(279,-.05)(281,.03)(283,-.03)(284.5,.2)(286,-.1)(287.5,.02)(289,-.03)(291,.04)(293,-.03)(295,.03)(297,-.04)(299,.03)(301,-.03)(303,.03)(306,-.02)(309,.02)(312,-.02)(315,.02)(318,-.02)(321,.02)(324,-.02)(328,.02)(332,-.02)(336,.02)(340,-.02)(344,.02)(348,-.02)(352,.02)(356,-.02)(360,.02)(364,-.02)(368,.02)(370,0)}
\tr{red}{4}{(220,0)(248,0)(255,.02)(262,-.02)(269,.02)(276,-.03)(283,.02)(290,-.02)(297,.02)(304,-.02)(311,.02)(315,-.02)(317.1,0)(318.5,-.1)(320.5,.08)(322.9,.17)(324.5,.02)(326,.05)(328,-.03)(330,.02)(332,-.04)(334,.03)(336,-.02)(338,.03)(340,-.03)(342,.04)(344,-.02)(346,.03)(348,-.03)(350,.02)(353,-.03)(356,.03)(359,-.02)(362,.03)(365,.08)(367,-.02)(370,.03)}
\tr{mplgreen}{4}{(220,0)(247.5,0)(249,-.06)(250.8,.3)(252,0)(252.9,-.2)(254.5,.03)(256,.1)(257.5,-.05)(260,.05)(264,-.04)(268,.04)(272,-.03)(276,.03)(280,-.04)(284,.03)(288,-.02)(292,.03)(296,-.03)(300,.02)(304,-.02)(308,.03)(312,-.02)(316,.02)(320,-.02)(324,.02)(328,-.03)(332,.02)(336,-.02)(340,.03)(344,-.02)(348,.02)(352,-.03)(356,.02)(360,-.02)(364,.03)(368,-.02)(370,0)}
\tr{blue}{4}{(220,0)(246,0)(247.6,0)(248.7,-.15)(250.7,1.1)(251.7,.2)(252.8,-.9)(253.9,-.2)(254.8,.1)(255.6,-.05)(256.5,.15)(257.4,-.02)(258.3,.12)(259.2,-.03)(260.5,.1)(262,-.05)(263.5,.05)(265,-.04)(266.5,.04)(268,-.03)(270,.04)(272,-.03)(274,.03)(276,-.03)(278,.04)(280,-.03)(282,.03)(284,-.03)(286,.02)(288,-.03)(290,.03)(293,-.02)(296,.04)(298,-.03)(301,.03)(304,-.02)(307,.02)(310,-.02)(313,.03)(316,-.02)(319,.02)(322,-.02)(326,.02)(330,-.02)(334,.02)(338,-.02)(342,.02)(346,-.02)(350,.02)(354,-.02)(358,.02)(362,-.02)(366,.02)(370,0)}
\tr{red}{5}{(220,0)(246,0)(253,.02)(260,-.03)(267,.02)(274,-.02)(281,.03)(288,-.02)(295,.02)(302,-.03)(309,.02)(314,-.02)(316.1,0)(317.5,-.1)(319.5,.05)(321.9,.3)(323.1,-.13)(324.4,.3)(325.7,-.18)(327,.02)(329,-.05)(331,.03)(333,-.04)(335,.03)(337,-.02)(339,.05)(340.8,.14)(342.5,-.03)(344.5,-.05)(346.5,.05)(348,-.03)(349.8,.14)(351.5,-.03)(354,.03)(357,-.03)(360,.03)(363,-.03)(365,.05)(366.7,.03)(367.7,-.35)(369,-.1)(370,-.05)}
\tr{mplgreen}{5}{(220,0)(245.8,0)(247.4,-.05)(249.4,.25)(250.7,0)(251.6,-.18)(253.4,.04)(255.4,.08)(257.4,-.05)(260,.05)(264,-.04)(268,.04)(272,-.03)(276,.04)(280,-.03)(284,.03)(288,-.03)(292,.03)(296,-.02)(300,.03)(304,-.03)(308,.02)(312,-.02)(316,.03)(320,-.02)(324,.02)(328,-.03)(332,.03)(336,-.02)(340,.02)(344,-.03)(348,.03)(352,-.02)(356,.02)(360,-.03)(363,.03)(365,.15)(367,-.05)(370,0)}
\tr{blue}{5}{(220,0)(244.5,0)(246.1,0)(247,-.2)(249.4,1.3)(250.4,.2)(251.4,-1.0)(252.5,-.2)(253.6,.4)(254.6,-.2)(255.6,.45)(256.8,-.2)(258,.3)(259.3,-.1)(260.6,.3)(262,-.08)(263.3,.15)(264.7,-.1)(266,.05)(267.5,-.05)(269,.12)(270.5,-.05)(272,.1)(273.5,-.05)(275,.05)(277,-.05)(279,.05)(281,-.04)(283,.04)(285,-.03)(287,.04)(289,-.03)(291,.03)(293,-.03)(295,.03)(297,-.02)(299,.03)(301,-.06)(303,.04)(306,-.02)(309,.03)(312,.14)(314,-.05)(316,.02)(319,-.02)(322,.02)(325,-.02)(328,.02)(331,-.02)(334,.02)(337,-.02)(340,.02)(343,-.13)(345,.02)(348,-.02)(352,.02)(356,-.02)(360,.02)(364,.05)(366,.1)(368,-.02)(370,0)}
\tr{red}{6}{(220,0)(245,0)(252,.02)(259,-.03)(266,.02)(273,-.02)(280,.03)(287,-.02)(294,.02)(301,-.02)(308,.03)(312,-.02)(314.6,0)(316,-.08)(318,.05)(319.5,-.05)(321.4,.27)(323,0)(324.5,-.05)(326,.05)(327.5,-.05)(329,.05)(331,-.03)(333,.04)(335,-.04)(337,.03)(339,-.05)(341,.04)(343,-.03)(345.8,.16)(347.5,-.05)(349.5,.05)(351.5,-.05)(354,.04)(357,-.03)(360,.04)(362,-.05)(363.7,.35)(365.5,-.02)(367,.05)(370,0)}
\tr{mplgreen}{6}{(220,0)(244.5,0)(246,-.04)(248,.15)(249.5,-.05)(251.5,.1)(253.5,-.12)(255.5,.05)(257.5,-.04)(260,.04)(264,-.03)(268,.04)(272,-.03)(276,.03)(280,-.03)(284,.03)(288,-.02)(292,.03)(296,-.03)(300,.02)(304,-.02)(308,.02)(312,-.02)(316,.03)(320,-.02)(324,.02)(328,-.03)(332,.02)(336,-.02)(340,.03)(344,-.02)(348,.02)(352,-.03)(356,.02)(360,-.02)(363,.1)(365,-.05)(368,.03)(370,0)}
\tr{blue}{6}{(220,0)(243,0)(244.6,0)(245.6,-.2)(247.9,1.2)(249,.2)(250.1,-1.0)(251.4,-.2)(252.7,.65)(253.9,-.2)(255.4,.45)(256.9,-.1)(258.1,.05)(259.4,-.2)(261,.05)(262.5,-.05)(264,.08)(265.5,-.05)(267,.03)(268.5,-.03)(270,.04)(272,-.03)(274,.03)(276,-.03)(278,.04)(280,-.03)(282,.03)(284,-.03)(286,.02)(288,-.03)(290,.03)(293,-.02)(296,.03)(299,-.02)(302,.03)(305,-.02)(308,.02)(311,.08)(313,-.03)(316,.02)(319,-.02)(322,.03)(325,-.02)(328,.02)(331,-.02)(334,.02)(338,-.02)(342,.02)(346,-.02)(350,.02)(354,-.02)(358,.02)(362,-.02)(366,.02)(370,-.03)}
\tr{red}{7}{(220,0)(246,0)(253,.02)(260,-.03)(267,.02)(274,-.02)(281,.02)(288,-.03)(295,.02)(302,-.02)(309,.03)(314,-.02)(317.1,0)(318.5,-.1)(320,.1)(321.5,-.05)(322.9,.55)(324,-.2)(324.9,.45)(325.9,-.42)(326.9,.34)(327.9,-.37)(328.9,.28)(329.9,-.2)(330.9,.05)(332.8,.23)(333.8,-.15)(335,.05)(336.5,-.03)(338,.05)(340,-.05)(342,.06)(344,-.03)(346,.03)(348,-.05)(350,.04)(352,-.03)(355,.03)(358,-.04)(361,.03)(362.5,.1)(363.7,.34)(365.5,-.2)(367,-.15)(368.5,-.02)(370,0)}
\tr{mplgreen}{7}{(220,0)(245.5,0)(247,-.05)(249,.2)(250.5,-.15)(252,.2)(253.5,-.3)(255,.1)(256.5,-.05)(258.5,.08)(260,-.08)(262,.04)(265,-.03)(269,.04)(273,-.03)(277,.03)(281,-.03)(285,.03)(289,-.02)(293,.03)(297,-.03)(301,.02)(305,-.03)(309,.03)(313,-.02)(317,.02)(321,-.02)(325,.03)(329,-.03)(333,.02)(337,-.02)(341,.03)(345,-.02)(349,.02)(353,-.03)(357,.02)(361,-.02)(365,.05)(368,-.03)(370,0)}
\tr{blue}{7}{(220,0)(244.5,0)(246.1,0)(247.4,-.2)(250.2,1.55)(251.4,.2)(252.6,-1.3)(253.9,-.3)(255.1,.8)(256.4,.1)(257.4,-.35)(258.6,.25)(259.9,-.05)(261.4,-.2)(263,.05)(264.5,-.05)(266,.04)(268,-.03)(270,.04)(272,-.03)(274,.04)(276,-.03)(278,.03)(280,-.04)(282,.03)(284,-.03)(286,.04)(288,-.02)(290,.03)(292,-.03)(294,.03)(296,-.02)(298,.03)(300,-.03)(302,.02)(305,-.2)(307,.03)(309,-.03)(311,.05)(313.5,.23)(315,.02)(316,-.26)(317.5,-.05)(319,.03)(321,-.02)(324,.03)(327,-.02)(330,.02)(333,-.02)(337,.02)(341,-.02)(345,.02)(349,-.02)(353,.02)(357,-.02)(361,.02)(365,-.02)(370,0)}
\pk{259.1}{1}\pk{255.1}{2}\pk{251.1}{3}\pk{247.6}{4}\pk{246.1}{5}\pk{244.6}{6}\pk{246.1}{7}
\pk{335.6}{1}\pk{328.6}{2}\pk{322.1}{3}\pk{317.1}{4}\pk{316.1}{5}\pk{314.6}{6}\pk{317.1}{7}
\end{axis}
\pgfresetboundingbox
\useasboundingbox (0,0) rectangle (562.5pt,359.5pt);
\end{tikzpicture}
\end{document}
